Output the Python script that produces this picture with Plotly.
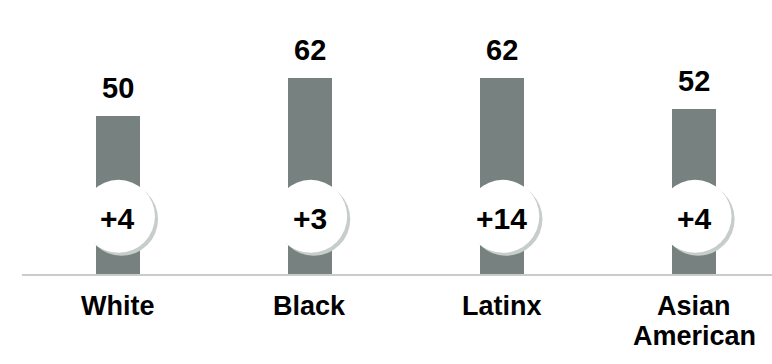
import plotly.graph_objects as go

# Share of respondents by group, with change versus the prior period
groups = ["White", "Black", "Latinx", "Asian American"]
shares = [50, 62, 62, 52]
changes = ["+4", "+3", "+14", "+4"]

BAR_COLOR = "#77817f"
SHADOW_COLOR = "#c7cdcb"
AXIS_COLOR = "#c8cccb"
FONT = "Liberation Sans, Arial, sans-serif"

BADGE_Y = 18.2          # vertical position of the change badges (data units)
BADGE_SIZE = 73         # badge diameter in px

xpos = list(range(len(groups)))

fig = go.Figure()

fig.add_trace(go.Bar(
    x=xpos, y=shares, width=0.229,
    marker=dict(color=BAR_COLOR, line=dict(width=0)),
    hoverinfo="skip",
))

# soft shadow behind each badge, nudged right and down
fig.add_trace(go.Scatter(
    x=[p + 0.021 for p in xpos], y=[BADGE_Y - 0.9] * len(xpos),
    mode="markers",
    marker=dict(size=BADGE_SIZE, color=SHADOW_COLOR, line=dict(width=0)),
    hoverinfo="skip",
))
fig.add_trace(go.Scatter(
    x=[p + 0.005 for p in xpos], y=[BADGE_Y] * len(xpos),
    mode="markers",
    marker=dict(size=BADGE_SIZE, color="white", line=dict(width=0)),
    hoverinfo="skip",
))

# change figures inside the badges
for p, c in zip(xpos, changes):
    fig.add_annotation(
        x=p, y=BADGE_Y, text=f"<b>{c}</b>", showarrow=False,
        yanchor="middle", yshift=-2,
        font=dict(family=FONT, size=30, color="black"),
    )

# value labels above the bars
for p, v in zip(xpos, shares):
    fig.add_annotation(
        x=p, y=v, text=f"<b>{v}</b>", showarrow=False,
        yanchor="bottom", yshift=10,
        font=dict(family=FONT, size=29, color="black"),
    )

# category labels under the axis, one word per line
LINE_STEP = 30
for p, g in zip(xpos, groups):
    for i, word in enumerate(g.split(" ")):
        fig.add_annotation(
            x=p, xref="x", y=0, yref="paper", text=f"<b>{word}</b>",
            showarrow=False, yanchor="top", yshift=-15 - i * LINE_STEP,
            font=dict(family=FONT, size=27, color="black"),
        )

fig.update_layout(
    width=772, height=364,
    margin=dict(l=22, r=0, t=0, b=90),
    paper_bgcolor="white", plot_bgcolor="white",
    showlegend=False,
    bargap=0,
)
fig.update_xaxes(
    range=[-0.4969, 3.4053], tickvals=xpos, showticklabels=False,
    showgrid=False, zeroline=False, showline=True,
    linecolor=AXIS_COLOR, linewidth=2, ticks="",
    fixedrange=True,
)
fig.update_yaxes(
    range=[0, 86.5], visible=False, showgrid=False, zeroline=False,
    fixedrange=True,
)

fig.write_html("out.html", config={"displayModeBar": False})
